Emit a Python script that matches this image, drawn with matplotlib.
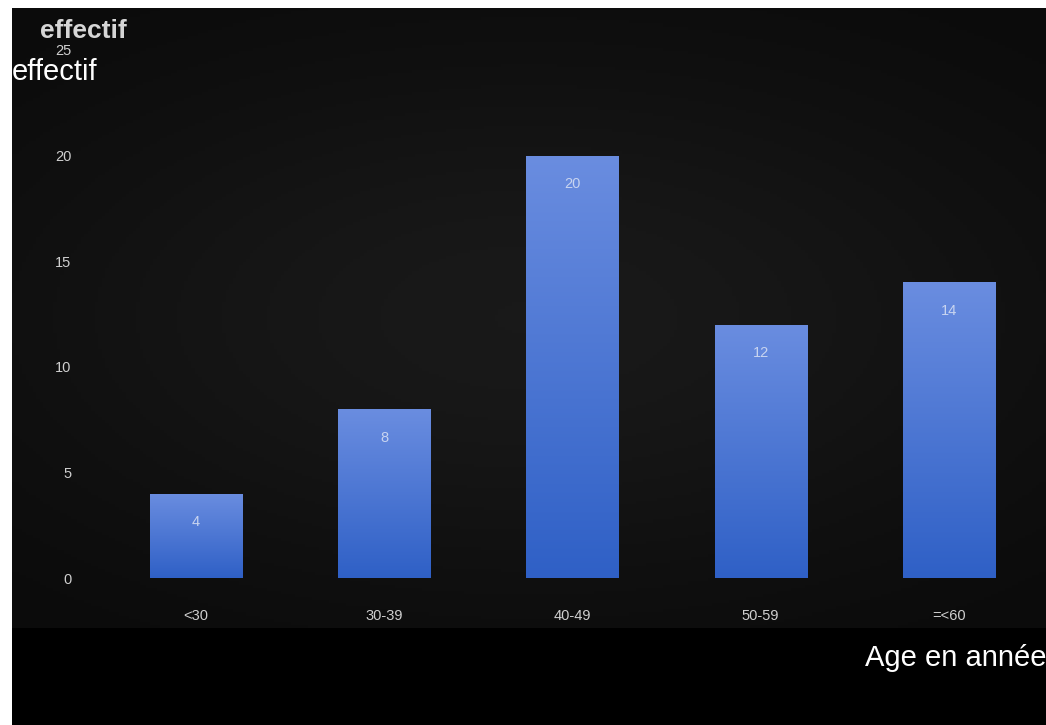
import numpy as np
import matplotlib
matplotlib.use("Agg")
import matplotlib.pyplot as plt
from matplotlib.patches import Rectangle
from matplotlib.colors import LinearSegmentedColormap

plt.rcParams['font.family'] = ['Liberation Sans', 'DejaVu Sans']

# tranches d'age et effectifs
categories = ['<30', '30-39', '40-49', '50-59', '=<60']
effectifs = [4, 8, 20, 12, 14]
yticks = [0, 5, 10, 15, 20, 25]

W, H = 1046, 725
fig = plt.figure(figsize=(W / 100, H / 100), dpi=100)
fig.patch.set_facecolor('white')

def px(x0, y0, x1, y1):
    # rectangle en pixels (origine en haut a gauche) -> coordonnees figure
    return [x0 / W, 1 - y1 / H, (x1 - x0) / W, (y1 - y0) / H]

# fond sombre du graphique et bande noire du bas
bg = fig.add_axes(px(12, 8, W, 628))
bg.set_axis_off()
yy, xx = np.mgrid[-1:1:200j, -1:1:300j]
glow = np.exp(-(xx ** 2 * 0.8 + yy ** 2 * 1.2))
bg_cmap = LinearSegmentedColormap.from_list('bg', ['#0b0b0b', '#191919'])
bg.imshow(glow, cmap=bg_cmap, aspect='auto', extent=[0, 1, 0, 1])
bg.set_xlim(0, 1)
bg.set_ylim(0, 1)
fig.patches.append(Rectangle((12 / W, 0), 1, (H - 628) / H, transform=fig.transFigure,
                             facecolor='black', edgecolor='none', zorder=0.5))

ax = fig.add_axes(px(102, 50, 1043, 578))
ax.set_facecolor('none')
x = np.arange(len(categories))
bars = ax.bar(x, effectifs, width=0.49, color='none', edgecolor='none')

bar_cmap = LinearSegmentedColormap.from_list('bar', ['#2f60c6', '#6a8de0'])
grad = np.linspace(0, 1, 256).reshape(-1, 1)
for b, v in zip(bars, effectifs):
    x0 = b.get_x()
    im = ax.imshow(grad, cmap=bar_cmap, origin='lower', aspect='auto',
                   extent=[x0, x0 + b.get_width(), 0, v], zorder=2)
    im.set_clip_path(b)
    ax.text(b.get_x() + b.get_width() / 2, v - 1.35, str(v), ha='center', va='center',
            color='#c8d4f0', fontsize=10.5, zorder=3)

ax.set_xlim(-0.5, len(categories) - 0.5)
ax.set_ylim(0, 25)
ax.set_yticks(yticks)
ax.set_xticks(x)
ax.set_xticklabels(categories)
ax.tick_params(axis='both', length=0, colors='#cfcfcf', labelsize=10.5)
ax.tick_params(axis='y', pad=22)
ax.tick_params(axis='x', pad=22)
for s in ax.spines.values():
    s.set_visible(False)

# titres des axes
fig.text(40 / W, 1 - 31 / H, 'effectif', color='#d6d6d6', fontsize=19,
         fontweight='bold', va='center', ha='left')
fig.text(12 / W, 1 - 72 / H, 'effectif', color='white', fontsize=21,
         va='center', ha='left')
fig.text(865 / W, 1 - 658 / H, 'Age en année', color='white', fontsize=21,
         va='center', ha='left')

fig.savefig('out.png', dpi=100, facecolor=fig.get_facecolor())
